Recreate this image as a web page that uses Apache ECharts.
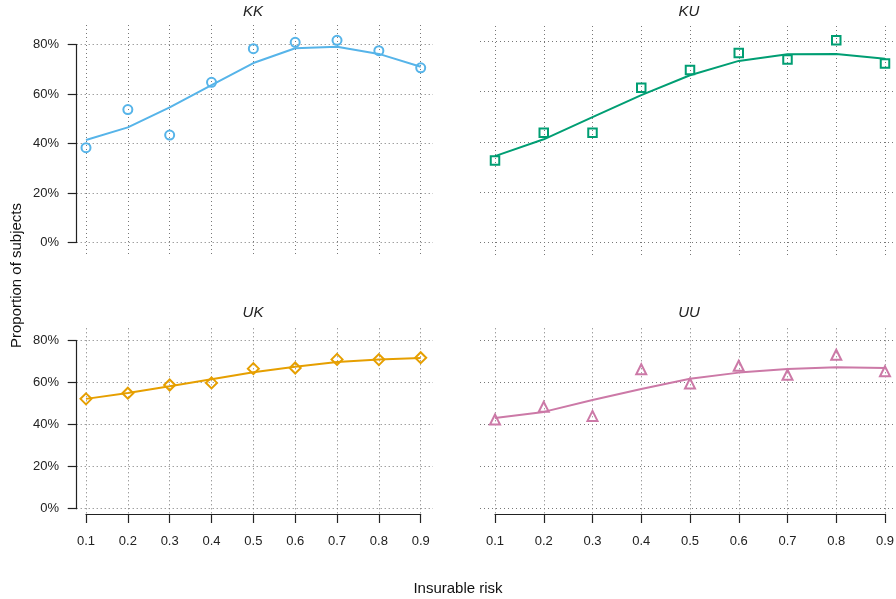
<!DOCTYPE html>
<html>
<head>
<meta charset="utf-8">
<script src="https://cdn.jsdelivr.net/npm/echarts@6/dist/echarts.min.js"></script>
<style>
html,body{margin:0;padding:0;background:#fff;}
#main{width:896px;height:599px;}
</style>
</head>
<body>
<div id="main"></div>
<script>
// ---- data ----
const risk = ['0.1', '0.2', '0.3', '0.4', '0.5', '0.6', '0.7', '0.8', '0.9'];
const yTickValues = [0, 20, 40, 60, 80];

const kkObs = [38.3, 53.7, 43.4, 64.7, 78.3, 80.9, 81.7, 77.5, 70.6];
const kkFit = [41.4, 46.5, 54.6, 63.6, 72.5, 78.5, 79.1, 76.2, 71.0];

const kuObs = [32.6, 43.6, 43.6, 61.5, 68.6, 75.3, 72.8, 80.4, 71.2];
const kuFit = [34.3, 41.0, 49.8, 58.6, 66.5, 72.2, 74.8, 74.9, 73.1];

const ukObs = [52.3, 55.0, 58.9, 59.9, 66.7, 67.0, 71.1, 71.0, 71.9];
const ukFit = [52.3, 55.1, 58.3, 61.6, 65.0, 67.6, 69.9, 71.0, 71.8];

const uuObs = [42.5, 48.5, 44.2, 66.4, 59.6, 68.1, 63.8, 73.3, 65.4];
const uuFit = [43.2, 46.1, 51.8, 57.0, 61.9, 64.8, 66.5, 67.3, 67.0];

// ---- panel layout & styles ----
const FONT = '"Liberation Sans", Arial, Helvetica, sans-serif';
const GRIDCOL = '#777';
const AXISCOL = '#222';

const panels = [
  { name: 'KK', obs: kkObs, fit: kkFit, color: '#56B4E9', symbol: 'circle', size: 9,
    vx: 86, vw: 334.7, vt: 25, vh: 231, hx: 76.7, hw: 356.3, ht: 44.5, hh: 198,
    showX: false, showY: true, tx: 253, ty: 12 },
  { name: 'KU', obs: kuObs, fit: kuFit, color: '#009E73', symbol: 'rect', size: 8.5,
    vx: 495, vw: 390, vt: 26, vh: 230.5, hx: 480, hw: 416, ht: 41.3, hh: 201,
    showX: false, showY: false, tx: 689, ty: 12 },
  { name: 'UK', obs: ukObs, fit: ukFit, color: '#E69F00', symbol: 'diamond', size: 11,
    vx: 86, vw: 334.7, vt: 328.3, vh: 185.7, hx: 76.7, hw: 356.3, ht: 340.7, hh: 168,
    showX: true, showY: true, tx: 253, ty: 313 },
  { name: 'UU', obs: uuObs, fit: uuFit, color: '#CC79A7', symbol: 'triangle', size: 10,
    vx: 495, vw: 390, vt: 328.3, vh: 185.7, hx: 480, hw: 416, ht: 340.7, hh: 168,
    showX: true, showY: false, tx: 689, ty: 313 }
];

const grid = [], xAxis = [], yAxis = [], series = [], graphic = [];
const dotted = { color: GRIDCOL, width: 1, type: [1, 3] };

panels.forEach(p => {
  // grid A: vertical dotted lines (+ x axis on bottom row)
  const gA = grid.length;
  grid.push({ left: p.vx, top: p.vt, width: p.vw, height: p.vh, containLabel: false, outerBoundsMode: 'none' });
  xAxis.push({
    gridIndex: gA, type: 'category', data: risk, boundaryGap: false,
    offset: p.showX ? 8.7 : 0,
    axisLine: { show: p.showX, lineStyle: { color: AXISCOL, width: 1.2 } },
    axisTick: { show: p.showX, length: 9, interval: 0, lineStyle: { color: AXISCOL, width: 1.2 } },
    axisLabel: { show: p.showX, interval: 0, margin: 12, color: '#222', fontSize: 13, fontFamily: FONT },
    splitLine: { show: true, interval: 0, lineStyle: dotted }
  });
  yAxis.push({ gridIndex: gA, type: 'value', min: 0, max: 1, show: false });

  // grid B: horizontal dotted lines (+ y axis on left column)
  const gB = grid.length;
  grid.push({ left: p.hx, top: p.ht, width: p.hw, height: p.hh, containLabel: false, outerBoundsMode: 'none' });
  xAxis.push({ gridIndex: gB, type: 'value', min: 0, max: 1, show: false });
  yAxis.push({
    gridIndex: gB, type: 'value', min: yTickValues[0], max: yTickValues[yTickValues.length - 1], interval: 20,
    offset: p.showY ? 4.7 : 0,
    axisLine: { show: p.showY, lineStyle: { color: AXISCOL, width: 1.2 } },
    axisTick: { show: p.showY, length: 9, lineStyle: { color: AXISCOL, width: 1.2 } },
    axisLabel: { show: p.showY, margin: 13, color: '#222', fontSize: 13, fontFamily: FONT, formatter: '{value}%' },
    splitLine: { show: true, lineStyle: dotted }
  });

  // grid C: data
  const gC = grid.length;
  grid.push({ left: p.vx, top: p.ht, width: p.vw, height: p.hh, containLabel: false, outerBoundsMode: 'none' });
  xAxis.push({ gridIndex: gC, type: 'category', data: risk, boundaryGap: false, show: false });
  yAxis.push({ gridIndex: gC, type: 'value', min: 0, max: 80, show: false });

  series.push({
    type: 'line', xAxisIndex: gC, yAxisIndex: gC, data: p.fit, showSymbol: false, clip: false,
    lineStyle: { color: p.color, width: 2 }, silent: true, animation: false, z: 3
  });
  series.push({
    type: 'scatter', xAxisIndex: gC, yAxisIndex: gC, data: p.obs, symbol: p.symbol, symbolSize: p.size, clip: false,
    itemStyle: { color: 'rgba(255,255,255,0)', borderColor: p.color, borderWidth: 2, opacity: 1 },
    silent: true, animation: false, z: 4
  });

  graphic.push({
    type: 'text', x: p.tx, y: p.ty,
    style: { text: p.name, align: 'center', verticalAlign: 'middle', fill: '#222',
             font: 'italic 15px ' + FONT }
  });
});

graphic.push({
  type: 'text', x: 17, y: 275.5, rotation: Math.PI / 2,
  style: { text: 'Proportion of subjects', align: 'center', verticalAlign: 'middle', fill: '#111', font: '15px ' + FONT }
});
graphic.push({
  type: 'text', x: 458, y: 588.5,
  style: { text: 'Insurable risk', align: 'center', verticalAlign: 'middle', fill: '#111', font: '15px ' + FONT }
});

const chart = echarts.init(document.getElementById('main'), null, { renderer: 'canvas' });
chart.setOption({
  backgroundColor: '#fff',
  animation: false,
  textStyle: { fontFamily: FONT },
  grid, xAxis, yAxis, series, graphic
});
</script>
</body>
</html>
